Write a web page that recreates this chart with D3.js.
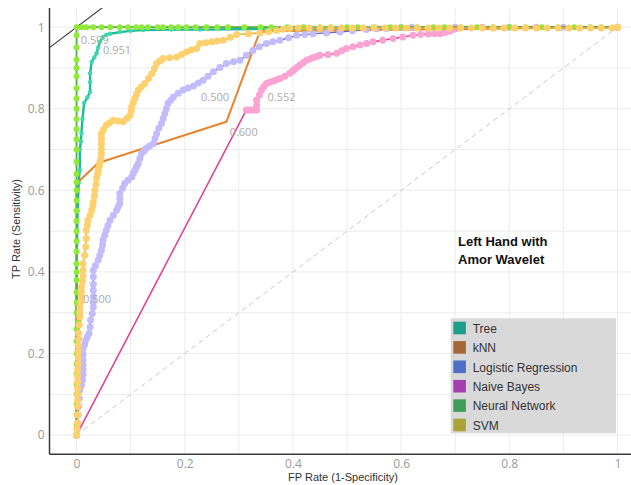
<!DOCTYPE html>
<html>
<head>
<meta charset="utf-8">
<script src="https://cdn.jsdelivr.net/npm/d3@7/dist/d3.min.js"></script>
<style>
  html, body { margin: 0; padding: 0; background: #fff; }
  svg { display: block; }
</style>
</head>
<body>
<svg id="chart" width="631" height="485"></svg>
<script>
// ROC curves: [FP rate, TP rate] pairs per classifier
const treeRoc = [[0,0],[0,0.2],[0,0.4],[0.002,0.55],[0.004,0.62],[0.006,0.65],[0.006,0.699],[0.008,0.72],[0.009,0.740],[0.011,0.775],[0.014,0.814],[0.02,0.828],[0.025,0.841],[0.025,0.865],[0.025,0.887],[0.028,0.915],[0.033,0.926],[0.037,0.936],[0.040,0.95],[0.043,0.964],[0.049,0.976],[0.055,0.981],[0.062,0.984],[0.080,0.988],[0.10,0.991],[0.123,0.993],[0.175,0.994],[0.228,0.994],[0.35,0.996],[0.5,0.997],[0.7,1],[1,1]];
const knnRoc = [[0,0],[0,0.617],[0.04,0.667],[0.277,0.768],[0.339,0.99],[1,1]];
const logRegRoc = [[0,0],[0.001,0.015],[0.002,0.03],[0.003,0.05],[0.004,0.07],[0.005,0.09],[0.006,0.11],[0.009,0.122],[0.011,0.135],[0.012,0.148],[0.012,0.16],[0.012,0.172],[0.012,0.184],[0.012,0.198],[0.012,0.212],[0.015,0.222],[0.017,0.233],[0.02,0.241],[0.023,0.249],[0.025,0.265],[0.026,0.282],[0.029,0.298],[0.031,0.314],[0.031,0.327],[0.031,0.34],[0.031,0.355],[0.031,0.37],[0.031,0.388],[0.031,0.404],[0.035,0.416],[0.040,0.429],[0.043,0.441],[0.046,0.453],[0.048,0.466],[0.049,0.478],[0.052,0.49],[0.055,0.502],[0.058,0.514],[0.062,0.527],[0.068,0.539],[0.074,0.551],[0.077,0.56],[0.080,0.568],[0.080,0.58],[0.080,0.592],[0.085,0.605],[0.089,0.617],[0.095,0.625],[0.102,0.633],[0.105,0.642],[0.108,0.650],[0.111,0.658],[0.114,0.666],[0.117,0.678],[0.120,0.690],[0.125,0.697],[0.129,0.703],[0.135,0.709],[0.142,0.715],[0.145,0.727],[0.148,0.739],[0.152,0.752],[0.157,0.764],[0.160,0.776],[0.163,0.788],[0.166,0.8],[0.169,0.813],[0.174,0.821],[0.179,0.829],[0.188,0.838],[0.197,0.846],[0.206,0.851],[0.216,0.856],[0.225,0.863],[0.234,0.870],[0.243,0.88],[0.253,0.891],[0.265,0.901],[0.277,0.911],[0.29,0.915],[0.302,0.919],[0.314,0.931],[0.326,0.943],[0.338,0.952],[0.351,0.960],[0.363,0.964],[0.376,0.968],[0.392,0.974],[0.407,0.980],[0.422,0.982],[0.437,0.984],[0.462,0.986],[0.487,0.988],[0.51,0.991],[0.536,0.994],[0.555,0.996],[0.573,0.997],[0.6,0.999],[0.62,1],[0.7,1],[0.8,1],[0.9,1],[1,1]];
const naiveBayesRoc = [[0,0],[0.314,0.797],[0.319,0.797],[0.324,0.797],[0.329,0.797],[0.333,0.797],[0.333,0.809],[0.333,0.821],[0.338,0.834],[0.342,0.846],[0.346,0.854],[0.351,0.862],[0.357,0.865],[0.364,0.868],[0.37,0.871],[0.376,0.874],[0.385,0.88],[0.394,0.887],[0.399,0.892],[0.403,0.897],[0.408,0.902],[0.413,0.907],[0.419,0.913],[0.425,0.919],[0.431,0.922],[0.437,0.925],[0.444,0.928],[0.450,0.931],[0.465,0.933],[0.481,0.936],[0.49,0.942],[0.499,0.948],[0.511,0.952],[0.524,0.956],[0.536,0.96],[0.548,0.964],[0.566,0.968],[0.585,0.972],[0.603,0.976],[0.622,0.980],[0.636,0.982],[0.650,0.983],[0.661,0.984],[0.672,0.984],[0.681,0.987],[0.690,0.990],[0.696,0.994],[0.702,0.997],[0.75,1],[0.85,1],[1,1]];
const neuralNetRoc = [[0,0],[0,0.025],[0,0.05],[0,0.075],[0,0.1],[0,0.125],[0,0.15],[0,0.175],[0,0.2],[0,0.23],[0,0.26],[0.004,0.278],[0,0.3],[0,0.325],[0,0.35],[0,0.38],[0,0.4],[0,0.42],[0,0.45],[0,0.475],[0,0.5],[0,0.525],[0,0.55],[0,0.575],[0,0.6],[0,0.62],[0,0.64],[0,0.67],[0,0.7],[0,0.725],[0,0.75],[0,0.775],[0,0.8],[0,0.825],[0,0.85],[0,0.88],[0,0.9],[0,0.92],[0,0.95],[0,0.98],[0,1],[0.01,1],[0.018,1],[0.031,1],[0.046,1],[0.062,1],[0.08,1],[0.095,1],[0.11,1],[0.12,1],[0.132,1],[0.15,1],[0.16,1],[0.175,1],[0.188,1],[0.203,1],[0.22,1],[0.24,1],[0.26,1],[0.28,1],[0.31,1],[0.34,1],[0.36,1],[0.39,1],[0.42,1],[0.45,1],[0.47,1],[0.5,1],[0.52,1],[0.55,1],[0.58,1],[0.6,1],[0.63,1],[0.66,1],[0.68,1],[0.71,1],[0.74,1],[0.77,1],[0.8,1],[0.83,1],[0.86,1],[0.89,1],[0.92,1],[0.95,1],[0.97,1],[1,1]];
const svmRoc = [[0,0],[0.001,0.015],[0.002,0.03],[0.002,0.05],[0.002,0.07],[0.002,0.085],[0.002,0.1],[0.002,0.115],[0.002,0.13],[0.002,0.145],[0.002,0.16],[0.003,0.175],[0.003,0.19],[0.003,0.205],[0.003,0.22],[0.004,0.235],[0.004,0.25],[0.005,0.27],[0.006,0.29],[0.006,0.302],[0.006,0.314],[0.008,0.327],[0.009,0.34],[0.009,0.352],[0.009,0.364],[0.011,0.377],[0.012,0.39],[0.012,0.405],[0.012,0.421],[0.015,0.441],[0.017,0.462],[0.018,0.482],[0.018,0.502],[0.02,0.515],[0.021,0.527],[0.025,0.539],[0.028,0.551],[0.03,0.562],[0.031,0.572],[0.033,0.586],[0.034,0.600],[0.036,0.615],[0.037,0.630],[0.039,0.64],[0.040,0.650],[0.042,0.659],[0.043,0.668],[0.045,0.679],[0.046,0.690],[0.046,0.702],[0.046,0.715],[0.046,0.727],[0.046,0.739],[0.05,0.75],[0.055,0.760],[0.061,0.766],[0.068,0.772],[0.077,0.770],[0.086,0.768],[0.093,0.776],[0.099,0.784],[0.101,0.795],[0.102,0.805],[0.105,0.816],[0.108,0.826],[0.111,0.836],[0.114,0.846],[0.12,0.854],[0.126,0.862],[0.133,0.874],[0.139,0.886],[0.144,0.899],[0.148,0.911],[0.154,0.917],[0.160,0.923],[0.172,0.925],[0.185,0.927],[0.194,0.933],[0.203,0.939],[0.212,0.944],[0.222,0.948],[0.228,0.960],[0.239,0.962],[0.25,0.964],[0.26,0.966],[0.271,0.968],[0.284,0.975],[0.296,0.982],[0.318,0.984],[0.339,0.986],[0.355,0.989],[0.37,0.992],[0.382,0.995],[0.394,0.997],[0.41,0.998],[0.43,0.998],[0.45,0.998],[0.47,0.998],[0.49,0.998],[0.51,0.998],[0.53,0.998],[0.55,0.998],[0.57,0.998],[0.59,0.998],[0.61,0.998],[0.63,0.998],[0.65,0.998],[0.67,0.998],[0.69,0.998],[0.71,0.998],[0.73,0.998],[0.75,0.998],[0.77,0.998],[0.79,0.998],[0.81,0.998],[0.83,0.998],[0.85,0.998],[0.87,0.998],[0.89,0.998],[0.91,0.998],[0.93,0.998],[0.95,0.998],[0.97,0.998],[0.99,0.998],[1,1]];

// Legend entries and threshold labels
const classifierNames = ["Tree", "kNN", "Logistic Regression", "Naive Bayes", "Neural Network", "SVM"];
const thresholdLabels = [
  { text: "0.509", fpr: 0.008, tpr: 0.958 },
  { text: "0.951", fpr: 0.049, tpr: 0.934 },
  { text: "0.500", fpr: 0.230, tpr: 0.819 },
  { text: "0.552", fpr: 0.353, tpr: 0.819 },
  { text: "0.600", fpr: 0.283, tpr: 0.733 },
  { text: "0.500", fpr: 0.012, tpr: 0.324 }
];
const tickValues = [0, 0.2, 0.4, 0.6, 0.8, 1];
const gridValues = [0, 0.1, 0.2, 0.3, 0.4, 0.5, 0.6, 0.7, 0.8, 0.9, 1];

const series = [
  { name: "Tree",                data: treeRoc,       line: "#1fb99a", point: "#3ad8b0", r: 2.2, width: 2.4, key: "#1b9e8c" },
  { name: "kNN",                 data: knnRoc,        line: "#e8842c", point: null,      r: 0,   width: 2,   key: "#a5663a" },
  { name: "Logistic Regression", data: logRegRoc,     line: "#6f68c4", point: "#c2bcfc", r: 3.5, width: 1.4, key: "#4e6fc7" },
  { name: "Naive Bayes",         data: naiveBayesRoc, line: "#e2449a", point: "#fba3d3", r: 3.5, width: 1.6, key: "#a43fb0" },
  { name: "Neural Network",      data: neuralNetRoc,  line: "#4fae3c", point: "#90ea3a", r: 3,   width: 1.8, key: "#3f9e58" },
  { name: "SVM",                 data: svmRoc,        line: "#e9b233", point: "#ffd16e", r: 3.5, width: 1.6, key: "#aca337" }
];

const svg = d3.select("#chart");
const plotLeft = 49.5, plotRight = 631, plotTop = 8, plotBottom = 454.3;

const x = d3.scaleLinear().domain([-0.05, 1.025]).range([plotLeft, plotRight]);
const y = d3.scaleLinear().domain([-0.047, 1.047]).range([plotBottom, plotTop]);

svg.append("defs").append("clipPath").attr("id", "plot-clip")
  .append("rect").attr("x", plotLeft).attr("y", plotTop)
  .attr("width", plotRight - plotLeft).attr("height", plotBottom - plotTop);

// grid
const grid = svg.append("g").attr("stroke", "#ececec").attr("stroke-width", 1);
grid.selectAll("line.v").data(gridValues).join("line").attr("class", "v")
  .attr("x1", d => x(d)).attr("x2", d => x(d)).attr("y1", plotTop).attr("y2", plotBottom);
grid.selectAll("line.h").data(gridValues).join("line").attr("class", "h")
  .attr("y1", d => y(d)).attr("y2", d => y(d)).attr("x1", plotLeft).attr("x2", plotRight);

const plot = svg.append("g").attr("clip-path", "url(#plot-clip)");

// chance diagonal
plot.append("line")
  .attr("x1", x(0)).attr("y1", y(0)).attr("x2", x(1)).attr("y2", y(1))
  .attr("stroke", "#c8c8c8").attr("stroke-width", 1).attr("stroke-dasharray", "5,4");

// iso-performance line through (0, 1)
plot.append("line")
  .attr("x1", x(-0.05)).attr("y1", y(0.95)).attr("x2", x(0.06)).attr("y2", y(1.06))
  .attr("stroke", "#333").attr("stroke-width", 1.1);

const lineGen = d3.line().x(d => x(d[0])).y(d => y(d[1]));

// each curve: line first, sample points on top
series.forEach(s => {
  const g = plot.append("g");
  g.append("path").datum(s.data).attr("d", lineGen)
    .attr("fill", "none").attr("stroke", s.line).attr("stroke-width", s.width)
    .attr("stroke-linejoin", "round");
  if (s.point) {
    g.selectAll("circle").data(s.data).join("circle")
      .attr("cx", d => x(d[0])).attr("cy", d => y(d[1])).attr("r", s.r)
      .attr("fill", s.point);
  }
});

// threshold labels
svg.append("g").selectAll("text").data(thresholdLabels).join("text")
  .attr("x", d => x(d.fpr)).attr("y", d => y(d.tpr))
  .attr("font-family", "'Open Sans', sans-serif").attr("font-size", 11)
  .attr("fill", "#ababab").text(d => d.text);

// axes
const fmt = d3.format("~g");
const yAxis = svg.append("g").attr("transform", `translate(${plotLeft},0)`)
  .call(d3.axisLeft(y).tickValues(tickValues).tickSize(0).tickPadding(5).tickFormat(fmt));
const xAxis = svg.append("g").attr("transform", `translate(0,${plotBottom})`)
  .call(d3.axisBottom(x).tickValues(tickValues).tickSize(0).tickPadding(5).tickFormat(fmt));
[xAxis, yAxis].forEach(a => {
  a.select(".domain").remove();
  a.selectAll("text").attr("font-family", "'Open Sans', sans-serif").attr("font-size", 12).attr("fill", "#9a9a9a");
});
svg.append("line").attr("x1", plotLeft).attr("x2", plotLeft).attr("y1", plotTop).attr("y2", plotBottom)
  .attr("stroke", "#3a3a3a").attr("stroke-width", 1.5);
svg.append("line").attr("x1", plotLeft).attr("x2", plotRight).attr("y1", plotBottom).attr("y2", plotBottom)
  .attr("stroke", "#3a3a3a").attr("stroke-width", 1.5);

// axis titles
svg.append("text").attr("x", 343).attr("y", 481).attr("text-anchor", "middle")
  .attr("font-family", "'Liberation Sans', Arial, sans-serif").attr("font-size", 11).attr("fill", "#333")
  .text("FP Rate (1-Specificity)");
svg.append("text").attr("transform", "translate(20,229) rotate(-90)").attr("text-anchor", "middle")
  .attr("font-family", "'Liberation Sans', Arial, sans-serif").attr("font-size", 11).attr("fill", "#333")
  .text("TP Rate (Sensitivity)");

// note
const note = svg.append("text").attr("font-family", "'Liberation Sans', Arial, sans-serif")
  .attr("font-size", 13).attr("font-weight", "bold").attr("fill", "#111");
note.append("tspan").attr("x", 458).attr("y", 246).text("Left Hand with");
note.append("tspan").attr("x", 458).attr("y", 264).text("Amor Wavelet");

// legend
const legend = svg.append("g");
legend.append("rect").attr("x", 450.7).attr("y", 318.3).attr("width", 165.3).attr("height", 115)
  .attr("fill", "#d9d9d9");
const item = legend.selectAll("g.item").data(series).join("g").attr("class", "item")
  .attr("transform", (d, i) => `translate(453.3,${321.7 + i * 19.4})`);
item.append("rect").attr("width", 12.6).attr("height", 12.6).attr("fill", d => d.key);
item.append("text").attr("x", 19.4).attr("y", 11).attr("font-family", "'Liberation Sans', Arial, sans-serif")
  .attr("font-size", 12).attr("fill", "#333").text((d, i) => classifierNames[i]);
</script>
</body>
</html>
